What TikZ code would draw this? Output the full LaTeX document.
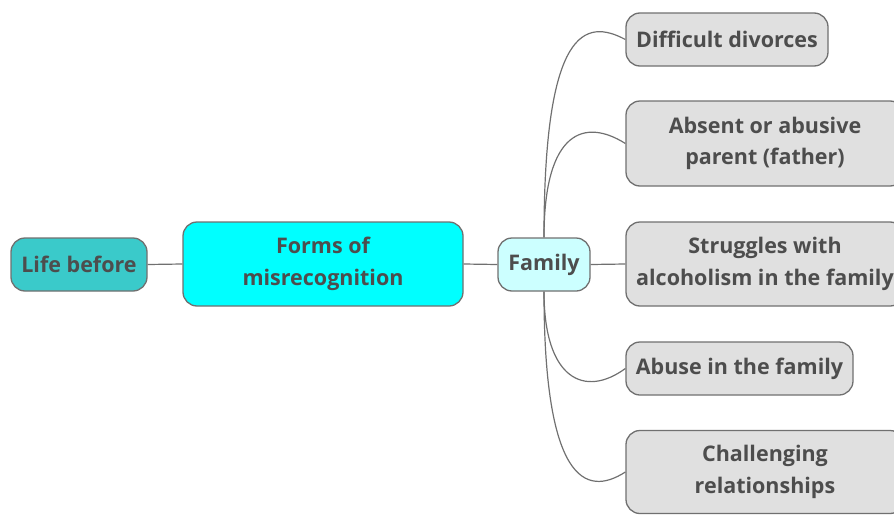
\documentclass[tikz,border=0pt]{standalone}
\usepackage{fontspec}
\setmainfont{Open Sans}
\definecolor{txt}{RGB}{77,77,77}
\definecolor{edge}{RGB}{112,112,112}
\definecolor{teal}{RGB}{58,202,202}
\definecolor{aqua}{RGB}{0,255,255}
\definecolor{paleaqua}{RGB}{204,255,255}
\definecolor{leaf}{RGB}{224,224,224}
\begin{document}
\begin{tikzpicture}[x=1pt,y=-1pt,
  box/.style={draw=edge, line width=1.3pt, rounded corners=14pt, text=txt,
    font=\bfseries\fontsize{21.5}{31.5}\selectfont, align=center, inner sep=0pt},
  link/.style={draw=edge, line width=1.2pt}]
\useasboundingbox (0,0) rectangle (894,514);
\clip (0,0) rectangle (894,514);

% main chain
\node[box, fill=teal, minimum width=136pt, minimum height=53pt] (life) at (79,264.5) {Life before};
\node[box, fill=aqua, minimum width=280pt, minimum height=84pt] (forms) at (323,264) {Forms of\\misrecognition};
\node[box, fill=paleaqua, minimum width=92pt, minimum height=53pt] (fam) at (544,264.5) {Family};

% leaves
\node[box, fill=leaf, minimum width=202pt, minimum height=53pt] (dd) at (727,39.5) {Difficult divorces};
\node[box, fill=leaf, minimum width=278pt, minimum height=85pt] (abs) at (765,143.5) {Absent or abusive\\parent (father)};
\node[box, fill=leaf, minimum width=278pt, minimum height=84pt] (str) at (765,264) {Struggles with\\alcoholism in the family};
\node[box, fill=leaf, minimum width=227pt, minimum height=53pt] (abu) at (739.5,368.5) {Abuse in the family};
\node[box, fill=leaf, minimum width=278pt, minimum height=83pt] (cha) at (765,472) {Challenging\\relationships};

% connectors
\draw[link] (life.east) -- (forms.west);
\draw[link] (forms.east) -- (fam.west);
\draw[link] (fam.east) -- (str.west);
\draw[link] (fam.north) .. controls (544,28) and (585,18) .. (dd.west);
\draw[link] (fam.north) .. controls (544,130) and (585,118) .. (abs.west);
\draw[link] (fam.south) .. controls (544,380) and (585,398) .. (abu.west);
\draw[link] (fam.south) .. controls (544,480) and (585,498) .. (cha.west);
\end{tikzpicture}
\end{document}
